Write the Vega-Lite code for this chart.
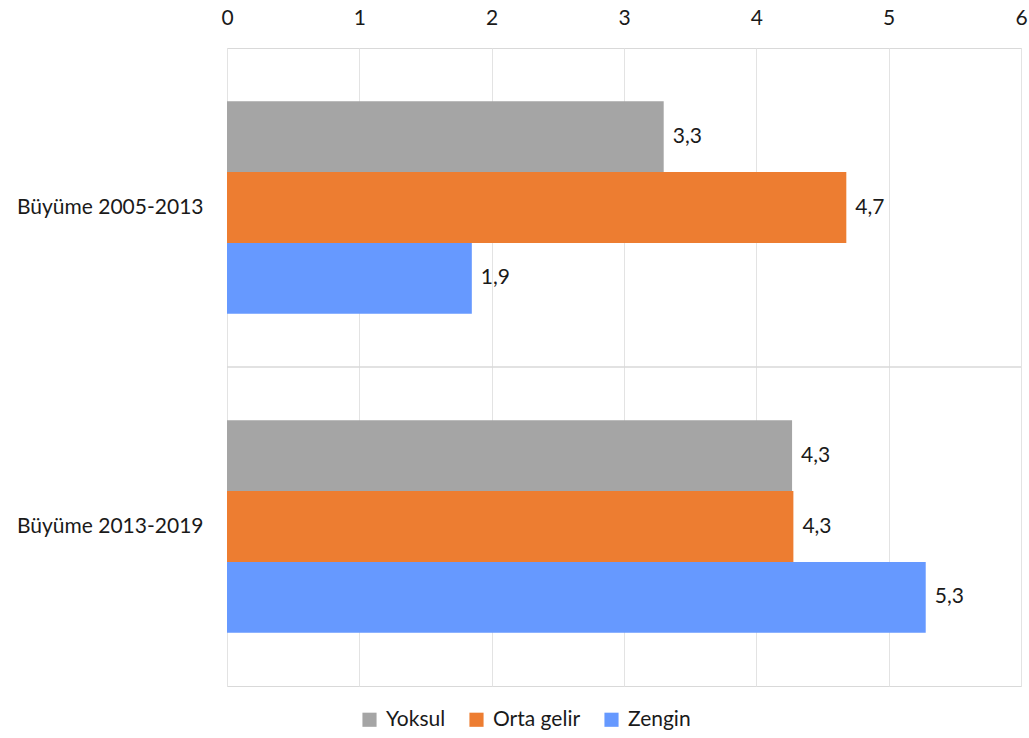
{
  "$schema": "https://vega.github.io/schema/vega-lite/v6.json",
  "width": 794,
  "height": 638,
  "autosize": {"type": "none"},
  "padding": {"left": 227, "top": 48, "right": 8, "bottom": 52},
  "background": "white",
  "config": {
    "font": "Lato",
    "view": {"stroke": "#d9d9d9", "strokeWidth": 1},
    "axis": {"labelFont": "Lato", "labelFontSize": 21, "labelColor": "#1a1a1a", "labelLimit": 400},
    "legend": {"labelFont": "Lato", "labelFontSize": 21, "labelColor": "#1a1a1a", "labelLimit": 400}
  },
  "datasets": {
    "bars": [
      {"cat": "Büyüme 2005-2013", "grp": "Yoksul", "value": 3.3, "label": "3,3"},
      {"cat": "Büyüme 2005-2013", "grp": "Orta gelir", "value": 4.68, "label": "4,7"},
      {"cat": "Büyüme 2005-2013", "grp": "Zengin", "value": 1.85, "label": "1,9"},
      {"cat": "Büyüme 2013-2019", "grp": "Yoksul", "value": 4.27, "label": "4,3"},
      {"cat": "Büyüme 2013-2019", "grp": "Orta gelir", "value": 4.28, "label": "4,3"},
      {"cat": "Büyüme 2013-2019", "grp": "Zengin", "value": 5.28, "label": "5,3"}
    ],
    "sep": [{"cat": "Büyüme 2013-2019"}]
  },
  "layer": [
    {
      "data": {"name": "sep"},
      "mark": {"type": "rule", "color": "#d9d9d9", "strokeWidth": 1.5},
      "encoding": {
        "y": {"field": "cat", "type": "nominal", "bandPosition": 0,
              "scale": {"domain": ["Büyüme 2005-2013", "Büyüme 2013-2019"], "paddingInner": 0, "paddingOuter": 0}}
      }
    },
    {
      "data": {"name": "bars"},
      "mark": {"type": "bar"},
      "encoding": {
        "y": {"field": "cat", "type": "nominal", "title": null,
              "scale": {"domain": ["Büyüme 2005-2013", "Büyüme 2013-2019"], "paddingInner": 0, "paddingOuter": 0},
              "axis": {"ticks": false, "domain": false, "labelPadding": 24, "grid": false, "labelLimit": 400}},
        "yOffset": {"field": "grp", "type": "nominal", "sort": ["Yoksul", "Orta gelir", "Zengin"],
                    "scale": {"paddingInner": 0, "paddingOuter": 0.75}},
        "x": {"field": "value", "type": "quantitative", "title": null,
              "scale": {"domain": [0, 6], "nice": false},
              "axis": {"orient": "top", "values": [0,1,2,3,4,5,6], "format": "d", "ticks": false, "domain": false, "labelPadding": 20,
                       "labelOverlap": false, "grid": true, "gridColor": "#e3e3e3", "gridWidth": 1, "labelFlush": false}},
        "color": {"field": "grp", "type": "nominal", "title": null,
                  "sort": ["Yoksul", "Orta gelir", "Zengin"],
                  "scale": {"domain": ["Yoksul", "Orta gelir", "Zengin"], "range": ["#a5a5a5", "#ed7d31", "#6699ff"]},
                  "legend": {"orient": "none", "direction": "horizontal", "legendX": 132, "legendY": 661,
                             "symbolType": "square", "symbolSize": 200, "symbolStrokeWidth": 0,
                             "labelOffset": 6, "columnPadding": 20}}
      }
    },
    {
      "data": {"name": "bars"},
      "mark": {"type": "text", "align": "left", "baseline": "middle", "dx": 9, "fontSize": 21, "color": "#1a1a1a", "font": "Lato"},
      "encoding": {
        "y": {"field": "cat", "type": "nominal",
              "scale": {"domain": ["Büyüme 2005-2013", "Büyüme 2013-2019"], "paddingInner": 0, "paddingOuter": 0}},
        "yOffset": {"field": "grp", "type": "nominal", "sort": ["Yoksul", "Orta gelir", "Zengin"],
                    "scale": {"paddingInner": 0, "paddingOuter": 0.75}},
        "x": {"field": "value", "type": "quantitative"},
        "text": {"field": "label"}
      }
    }
  ]
}
